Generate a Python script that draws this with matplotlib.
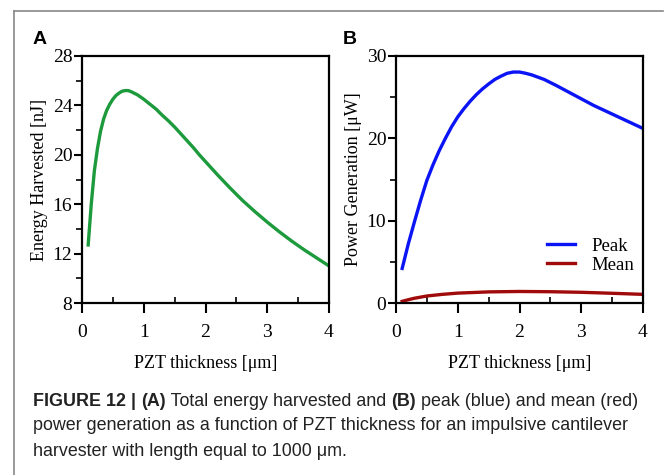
import matplotlib
matplotlib.use("Agg")
import matplotlib.pyplot as plt
from matplotlib.lines import Line2D
from matplotlib.ticker import MultipleLocator

# ---- data ----
thick_a = [0.1, 0.15, 0.2, 0.25, 0.3, 0.35, 0.4, 0.45, 0.5, 0.55, 0.6, 0.65, 0.7, 0.75,
           0.8, 0.9, 1.0, 1.1, 1.2, 1.3, 1.4, 1.5, 1.6, 1.7, 1.8, 1.9, 2.0, 2.2, 2.4,
           2.6, 2.8, 3.0, 3.2, 3.4, 3.6, 3.8, 4.0]
energy = [12.7, 16.0, 18.7, 20.5, 21.9, 22.9, 23.6, 24.1, 24.5, 24.8, 25.0, 25.15, 25.2,
          25.2, 25.1, 24.85, 24.5, 24.1, 23.7, 23.2, 22.75, 22.25, 21.7, 21.15, 20.6,
          20.0, 19.45, 18.35, 17.3, 16.3, 15.4, 14.55, 13.75, 13.0, 12.3, 11.65, 11.0]

thick_b = [0.1, 0.2, 0.3, 0.4, 0.5, 0.6, 0.7, 0.8, 0.9, 1.0, 1.1, 1.2, 1.3, 1.4, 1.5,
           1.6, 1.7, 1.8, 1.9, 2.0, 2.1, 2.2, 2.4, 2.6, 2.8, 3.0, 3.2, 3.4, 3.6, 3.8, 4.0]
peak = [4.2, 7.2, 9.9, 12.5, 14.9, 16.8, 18.5, 20.0, 21.4, 22.6, 23.6, 24.5, 25.3, 26.0,
        26.6, 27.15, 27.55, 27.9, 28.05, 28.05, 27.9, 27.7, 27.15, 26.4, 25.6, 24.8,
        24.0, 23.3, 22.6, 21.9, 21.2]
thick_m = [0.1, 0.2, 0.3, 0.5, 0.75, 1.0, 1.5, 2.0, 2.5, 3.0, 3.5, 4.0]
mean = [0.2, 0.4, 0.58, 0.85, 1.05, 1.2, 1.35, 1.4, 1.37, 1.3, 1.18, 1.05]

series_names = ["Peak", "Mean"]

serif = "Liberation Serif"
sans = "Liberation Sans"

fig = plt.figure(figsize=(6.64, 4.75), dpi=100)
W, H = 664, 475

def ax_at(x0, y0, x1, y1):
    return fig.add_axes([x0 / W, 1 - y1 / H, (x1 - x0) / W, (y1 - y0) / H])

axA = ax_at(82, 56, 329, 303)
axB = ax_at(396, 56, 643, 303)

for ax in (axA, axB):
    for s in ax.spines.values():
        s.set_linewidth(1.6)
    ax.set_xlim(0, 4)
    ax.xaxis.set_major_locator(MultipleLocator(1))
    ax.xaxis.set_minor_locator(MultipleLocator(0.5))
    ax.tick_params(axis="x", which="major", direction="out", length=7, width=1.5,
                   labelsize=14, pad=8)
    ax.tick_params(axis="x", which="minor", direction="in", length=4, width=1.2)
    ax.tick_params(axis="y", which="major", direction="out", length=6, width=1.5,
                   labelsize=14, pad=1)
    ax.tick_params(axis="y", which="minor", direction="out", length=4, width=1.2)
    ax.set_xlabel("PZT thickness [\u03bcm]", fontfamily=serif, fontsize=13, labelpad=10)

axA.plot(thick_a, energy, color="#1c9a3c", lw=2.4)
axA.set_ylim(8, 28)
axA.yaxis.set_major_locator(MultipleLocator(4))
axA.yaxis.set_minor_locator(MultipleLocator(2))
axA.set_ylabel("Energy Harvested [nJ]", fontfamily=serif, fontsize=13, labelpad=3)

axB.plot(thick_b, peak, color="#0a14f5", lw=2.4, label=series_names[0])
axB.plot(thick_m, mean, color="#a00a0a", lw=2.4, label=series_names[1])
axB.set_ylim(0, 30)
axB.yaxis.set_major_locator(MultipleLocator(10))
axB.yaxis.set_minor_locator(MultipleLocator(5))
axB.set_ylabel("Power Generation [\u03bcW]", fontfamily=serif, fontsize=13, labelpad=3)
axB.legend(loc="lower right", bbox_to_anchor=(1.035, 0.05), frameon=False,
           prop={"family": serif, "size": 13.5}, handlelength=1.5,
           handletextpad=0.9, labelspacing=0.1)

for ax in (axA, axB):
    for lab in ax.get_xticklabels() + ax.get_yticklabels():
        lab.set_fontfamily(serif)

fig.text(33 / W, 1 - 40 / H, "A", fontfamily=sans, fontweight="bold", fontsize=14,
         va="center", ha="left")
fig.text(343 / W, 1 - 40 / H, "B", fontfamily=sans, fontweight="bold", fontsize=14,
         va="center", ha="left")

# frame lines
fig.add_artist(Line2D([13.5 / W, 13.5 / W], [0, 1 - 11 / H], color="#888888", lw=1.2))
fig.add_artist(Line2D([13.5 / W, 663 / W], [1 - 11 / H, 1 - 11 / H], color="#888888", lw=1.2))

# caption
cap_size = 12.9
parts0 = [("FIGURE 12 | ", True), ("(A)", True), (" Total energy harvested and ", False),
          ("(B)", True), (" peak (blue) and mean (red)", False)]
line2 = "power generation as a function of PZT thickness for an impulsive cantilever"
line3 = "harvester with length equal to 1000 \u03bcm."
y0 = 401
x = 33 / W
fig.canvas.draw()
for txt, bold in parts0:
    t = fig.text(x, 1 - y0 / H, txt, fontfamily=sans, fontsize=cap_size,
                 fontweight="bold" if bold else "normal", va="center", ha="left",
                 color="#222222")
    bb = t.get_window_extent(renderer=fig.canvas.get_renderer())
    x = bb.x1 / W
for i, line in enumerate([line2, line3], start=1):
    fig.text(33 / W, 1 - (y0 + i * 25) / H, line, fontfamily=sans, fontsize=cap_size,
             va="center", ha="left", color="#222222")

fig.savefig("out.png", dpi=100)
